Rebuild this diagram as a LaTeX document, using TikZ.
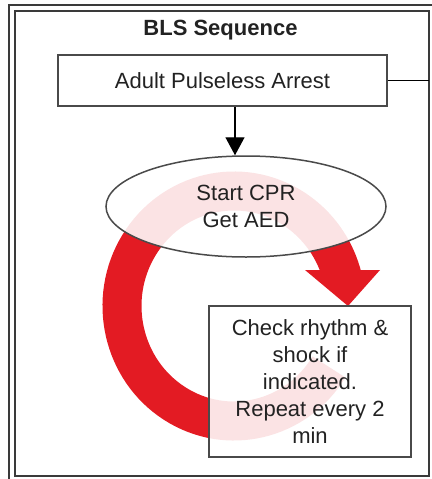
\documentclass[tikz,border=0pt]{standalone}
\usepackage{fontspec}
\setmainfont{Liberation Sans}
\usetikzlibrary{arrows.meta,shapes.geometric}
\definecolor{cyclered}{HTML}{E31B23}
\definecolor{framegray}{HTML}{3A3A3A}
\definecolor{boxgray}{HTML}{4A4A4A}
\definecolor{inkgray}{HTML}{222222}
\begin{document}
\begin{tikzpicture}[x=1pt,y=-1pt,
  framerule/.style={draw=framegray, line width=2pt},
  boxtext/.style={font=\fontsize{22}{27}\selectfont, text=inkgray, align=center},
  stepbox/.style={boxtext, draw=boxgray, line width=1.5pt, fill=white,
    fill opacity=0.88, text opacity=1, inner sep=0pt},
  link/.style={draw=black, line width=1.4pt},
  cycle/.style={cyclered, line width=39pt}]
\useasboundingbox (0,0) rectangle (431,479);

% double frame round the panel (outer rule runs off the right and bottom)
\draw[framerule] (8.5,5) rectangle (437,484);
\draw[framerule] (14.5,11) rectangle (429,475.5);

% red cycle arrow, drawn first so the boxes sit over it
\draw[cycle] (234,306) ++(32:112 and 115)
  arc[start angle=32, end angle=346, x radius=112, y radius=115];
\fill[cyclered] (305,270) -- (380,270) -- (348,306) -- cycle;

% title
\node[boxtext, font=\fontsize{22}{27}\selectfont\bfseries, anchor=base]
  (title) at (220.5,35) {BLS Sequence};

% steps
\node[stepbox, rectangle, minimum width=329pt, minimum height=51pt]
  (arrest) at (222.5,80.5) {Adult Pulseless Arrest};
\node[stepbox, ellipse, minimum width=280pt, minimum height=101pt]
  (cpr) at (246,206.5) {Start CPR\\Get AED};
\node[stepbox, rectangle, minimum width=202pt, minimum height=151pt]
  (check) at (310,381.5) {Check rhythm \&\\shock if\\indicated.\\Repeat every 2\\min};

% connectors
\coordinate (edge) at (429,80.5);
\draw[link] (arrest.east) -- (edge);
\draw[link, -{Triangle[width=19pt,length=18pt]}] (arrest.south -| 235,0) -- (cpr.north -| 235,0);
\end{tikzpicture}
\end{document}
